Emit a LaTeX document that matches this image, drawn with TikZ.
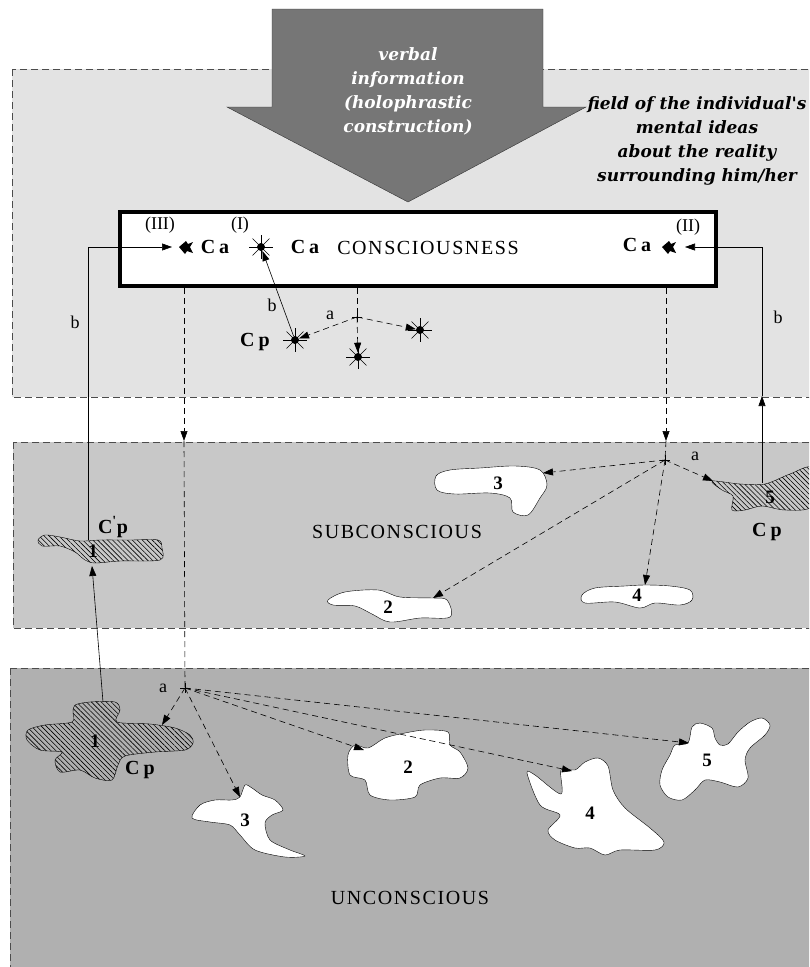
\documentclass[tikz,border=0pt]{standalone}
\usepackage{fontspec}
\setmainfont{Liberation Serif}
\newfontfamily\infofont{DejaVu Serif}
\newfontfamily\capsfont{Liberation Serif}[LetterSpace=8]
\usetikzlibrary{arrows.meta,patterns.meta}

\definecolor{fieldgray}{RGB}{227,227,227}
\definecolor{subgray}{RGB}{200,200,200}
\definecolor{ungray}{RGB}{176,176,176}
\definecolor{arrowgray}{RGB}{118,118,118}

\begin{document}
\begin{tikzpicture}[x=1pt,y=-1pt,>={Triangle[length=10pt,width=7pt]},semithick]
  \tikzstyle{region}=[draw=black!70,thin,dash pattern=on 7pt off 4pt]
  \tikzstyle{idea}=[draw=black,thin,fill=white]
  \tikzstyle{hatched}=[draw=black,thin,pattern={Lines[angle=-45,distance=3.5pt,line width=0.6pt]}]
  \tikzstyle{dashline}=[dash pattern=on 6pt off 4pt]
  \tikzstyle{spark}=[circle,fill=black,inner sep=0pt,minimum size=8pt]
  \tikzstyle{ca}=[font=\fontsize{20}{22}\selectfont\bfseries]
  \tikzstyle{num}=[font=\fontsize{19}{21}\selectfont\bfseries]
  \tikzstyle{tag}=[font=\fontsize{18}{20}\selectfont]
  \tikzstyle{layer}=[font=\capsfont\fontsize{20}{22}\selectfont]
  \tikzstyle{bi}=[font=\infofont\fontsize{17}{24}\selectfont\bfseries\itshape,align=center]

  \useasboundingbox (0,0) rectangle (809,967);
  \clip (0,0) rectangle (809,967);

  % three layers
  \draw[region,fill=fieldgray] (12,69) rectangle (830,397);
  \draw[region,fill=subgray] (13,442) rectangle (830,628);
  \draw[region,fill=ungray] (10,668) rectangle (830,990);

  % incoming verbal information
  \draw[thin,draw=black!80,fill=arrowgray] (272,9) -- (543,9) -- (543,107) -- (586,107)
    -- (408,202) -- (227,107) -- (272,107) -- cycle;
  \node[bi,text=white] (verbal) at (408,91) {verbal\\information\\(holophrastic\\construction)};
  \node[bi] (field) at (697,141) {field of the individual's\\mental ideas\\about the reality\\surrounding him/her};

  % consciousness
  \node[draw,line width=4pt,fill=white,minimum width=596pt,minimum height=74pt,inner sep=0pt] (box) at (418,249) {};
  \node[layer] (cons) at (428,248) {CONSCIOUSNESS};
  \node[ca] (ca1) at (215,247) {C\hspace{4pt}a};
  \node[ca] (ca2) at (305,247) {C\hspace{4pt}a};
  \node[ca] (ca3) at (637,245) {C\hspace{4pt}a};
  \node[tag] (r3) at (160,225) {(III)};
  \node[tag] (r1) at (240,225) {(I)};
  \node[tag] (r2) at (688,227) {(II)};
  \fill (179,247) -- (186,241) -- (188,244) -- (193,242) -- (190,247) -- (193,253) -- (187,251) -- (185,254) -- cycle;
  \fill (662,247) -- (669,241) -- (671,244) -- (676,242) -- (673,247) -- (676,253) -- (670,251) -- (668,254) -- cycle;

  % mental ideas
  \node[spark] (sI) at (261,247) {};
  \node[spark] (sCp) at (295,340) {};
  \node[spark] (sDn) at (358,357) {};
  \node[spark] (sRt) at (420,330) {};
  \foreach \s in {sI,sCp,sDn,sRt}
    \foreach \a in {0,45,...,315}
      \draw[thin] (\s.center) -- ++(\a:12);
  \node[ca] (cp1) at (255,342) {C\hspace{4pt}p};

  % subconscious
  \node[layer] (subcons) at (397,532) {SUBCONSCIOUS};
  \draw[idea] plot[smooth cycle,tension=0.55] coordinates {(436,476) (450,470) (480,468) (515,466) (540,470) (547,485)
    (540,498) (528,515) (513,512) (510,498) (490,493) (455,494) (437,490)};
  \draw[idea] plot[smooth cycle,tension=0.55] coordinates {(328,600) (345,592) (378,590) (400,597) (432,598) (447,600)
    (450,617) (420,618) (390,622) (372,614) (355,606) (333,605)};
  \draw[idea] plot[smooth cycle,tension=0.55] coordinates {(582,595) (595,588) (625,586) (645,585) (670,586) (690,590)
    (692,600) (680,605) (655,603) (640,608) (615,602) (585,603)};
  \draw[hatched] plot[smooth cycle,tension=0.5] coordinates {(712,481) (740,484) (765,484) (790,474) (812,468) (812,506)
    (785,510) (762,506) (745,510) (732,510) (733,496) (722,490)};
  \draw[hatched] plot[smooth cycle,tension=0.5] coordinates {(38,540) (45,535) (60,537) (80,541) (100,540) (130,540)
    (158,540) (162,548) (160,560) (120,561) (95,563) (85,560) (75,552) (60,546) (42,546)};
  \node[num] (s3) at (498,483) {3};
  \node[num] (s2) at (388,607) {2};
  \node[num] (s4) at (637,595) {4};
  \node[num] (s5) at (770,497) {5};
  \node[num] (s1) at (93,551) {1};
  \node[ca] (cp2) at (767,532) {C\hspace{4pt}p};
  \node[ca] (cp3) at (113,527) {C\textsuperscript{\textquotesingle}p};

  % unconscious
  \node[layer] (uncons) at (410,898) {UNCONSCIOUS};
  \draw[hatched] plot[smooth cycle,tension=0.5] coordinates {(75,705) (90,702) (115,702) (120,710) (117,722) (150,724)
    (175,728) (190,735) (193,743) (185,750) (155,752) (125,756) (118,765) (112,780) (95,778) (80,770) (60,772)
    (55,760) (62,752) (40,750) (27,740) (28,730) (45,725) (72,722) (73,712)};
  \draw[idea] plot[smooth cycle,tension=0.5] coordinates {(192,818) (200,805) (215,800) (232,800) (240,797) (245,785)
    (252,788) (262,795) (275,800) (283,810) (272,815) (265,823) (270,840) (290,850) (305,856) (285,857) (255,850)
    (240,835) (230,825) (210,822)};
  \draw[idea] plot[smooth cycle,tension=0.5] coordinates {(348,755) (355,745) (368,748) (385,738) (405,733) (425,730)
    (448,732) (450,745) (460,752) (468,768) (460,778) (440,778) (420,785) (415,797) (390,800) (370,795) (365,780) (350,775)};
  \draw[idea] plot[smooth cycle,tension=0.5] coordinates {(527,773) (535,775) (561,794) (561,770) (575,770) (585,762)
    (598,758) (608,766) (613,790) (625,808) (650,828) (664,842) (655,850) (620,850) (605,855) (590,848) (575,848)
    (555,840) (548,830) (560,815) (540,805)};
  \draw[idea] plot[smooth cycle,tension=0.5] coordinates {(662,770) (670,755) (675,745) (688,743) (692,727) (700,723)
    (712,728) (715,738) (720,745) (728,744) (738,732) (750,722) (762,718) (770,725) (765,735) (750,748) (745,760)
    (748,778) (738,787) (720,782) (705,780) (695,790) (682,800) (668,797) (660,785)};
  \node[num] (u1n) at (95,741) {1};
  \node[num] (u3n) at (245,820) {3};
  \node[num] (u2n) at (408,767) {2};
  \node[num] (u4n) at (590,813) {4};
  \node[num] (u5n) at (707,760) {5};
  \node[ca] (cp4) at (140,770) {C\hspace{4pt}p};

  % branching points and ends
  \coordinate (bL) at (184,288);
  \coordinate (bM) at (357,288);
  \coordinate (bR) at (666,288);
  \coordinate (eL) at (184,441);
  \coordinate (eR) at (666,441);
  \coordinate (pA) at (357,317);
  \coordinate (pS) at (665,460);
  \coordinate (pU) at (185,688);
  \coordinate (t3) at (543,473);
  \coordinate (t2) at (433,598);
  \coordinate (t4) at (645,585);
  \coordinate (t5) at (713,481);
  \coordinate (u1) at (162,725);
  \coordinate (u3) at (240,797);
  \coordinate (u2) at (364,750);
  \coordinate (u4) at (572,771);
  \coordinate (u5) at (689,743);
  \coordinate (k1) at (88,540);
  \coordinate (kL) at (88,247);
  \coordinate (cIII) at (172,247);
  \coordinate (k5) at (762,483);
  \coordinate (kM) at (762,396);
  \coordinate (kR) at (762,247);
  \coordinate (cII) at (685,247);
  \coordinate (m1) at (103,702);
  \coordinate (m2) at (92,566);

  \foreach \p in {pA,pS,pU}
    \draw[thin] (\p) ++(-5,0) -- ++(10,0) (\p) ++(0,-5) -- ++(0,10);

  % a: spreading down
  \draw[dashline,->] (bL) -- (eL);
  \draw[dashline] (eL) -- (pU);
  \draw[dashline,->] (bR) -- (eR);
  \draw[dashline] (eR) -- (pS);
  \draw[dashline] (bM) -- (pA);
  \draw[dashline,->] (pA) -- (sCp);
  \draw[dashline,->] (pA) -- (sDn);
  \draw[dashline,->] (pA) -- (sRt);
  \foreach \t in {t3,t2,t4,t5}
    \draw[dashline,->] (pS) -- (\t);
  \foreach \t in {u1,u3,u2,u4,u5}
    \draw[dashline,->] (pU) -- (\t);

  % b: rising to consciousness
  \draw[->] (sCp) -- (sI);
  \draw[->] (k1) -- (kL) -- (cIII);
  \draw[->] (k5) -- (kM);
  \draw[->] (kM) -- (kR) -- (cII);
  \draw[->] (m1) -- (m2);

  \node[tag] (la1) at (330,315) {a};
  \node[tag] (la2) at (695,456) {a};
  \node[tag] (la3) at (163,688) {a};
  \node[tag] (lb1) at (75,322) {b};
  \node[tag] (lb2) at (272,305) {b};
  \node[tag] (lb3) at (778,317) {b};
\end{tikzpicture}
\end{document}
